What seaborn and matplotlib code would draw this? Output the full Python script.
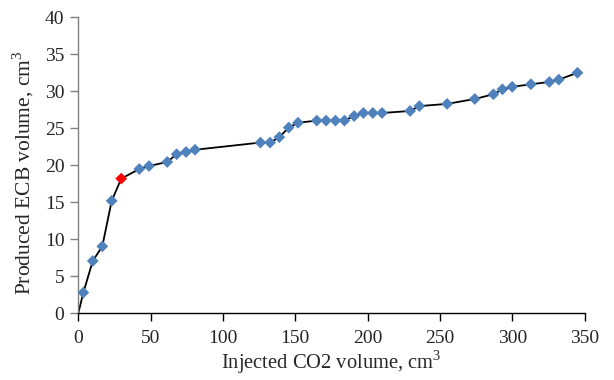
import matplotlib
matplotlib.use("Agg")
import matplotlib.pyplot as plt
import seaborn as sns
import pandas as pd

injected = [0, 3.5, 10.0, 16.6, 23.1, 29.7, 42.2, 48.9, 61.5, 68.0, 74.5, 80.7,
            125.9, 132.6, 139.0, 145.5, 151.9, 164.9, 171.3, 177.8, 184.0, 190.7,
            197.1, 203.6, 210.0, 229.4, 235.8, 255.0, 274.1, 287.0, 293.2, 300.0,
            312.9, 325.7, 332.2, 345.1]
produced = [0, 2.8, 7.07, 9.05, 15.2, 18.2, 19.5, 19.9, 20.45, 21.5, 21.8, 22.1,
            23.07, 23.07, 23.8, 25.1, 25.75, 26.04, 26.04, 26.04, 26.04, 26.66,
            27.07, 27.07, 27.07, 27.34, 28.0, 28.3, 28.96, 29.6, 30.27, 30.6,
            30.95, 31.26, 31.58, 32.5]
highlight_index = 5

df = pd.DataFrame({"x": injected, "y": produced})
markers_df = df.iloc[1:].copy()
markers_df["kind"] = ["red" if i == highlight_index else "blue" for i in markers_df.index]

sns.set_style("white")
plt.rcParams["font.family"] = ["Liberation Serif", "DejaVu Serif"]
plt.rcParams["mathtext.fontset"] = "custom"
plt.rcParams["mathtext.rm"] = "Liberation Serif"

fig = plt.figure(figsize=(6.14, 3.80), dpi=100)
ax = fig.add_axes([0.1275, 0.1755, 0.8245, 0.779])

sns.lineplot(data=df, x="x", y="y", color="black", linewidth=1.3, ax=ax, sort=False)
sns.scatterplot(data=markers_df, x="x", y="y", hue="kind",
                palette={"blue": "#4F81BD", "red": "#FF0000"},
                marker="D", s=36, edgecolor="none", legend=False, ax=ax, zorder=3)

ax.set_xlim(0, 350)
ax.set_ylim(0, 40)
ax.set_xticks(range(0, 351, 50))
ax.set_yticks(range(0, 41, 5))
ax.set_xlabel("Injected CO2 volume, cm$^3$", fontsize=14.8, labelpad=1)
ax.set_ylabel("Produced ECB volume, cm$^3$", fontsize=15.5)
ax.yaxis.set_label_coords(-0.083, 0.476)
ax.tick_params(axis="both", labelsize=14, direction="out", length=6, width=1,
               color="#808080", bottom=True, left=True)
ax.tick_params(axis="x", pad=6, color="black")
ax.tick_params(axis="y", pad=4)
for s in ["top", "right"]:
    ax.spines[s].set_visible(False)
ax.spines["left"].set_color("#808080")
ax.spines["bottom"].set_color("black")
ax.spines["left"].set_linewidth(1)
ax.spines["bottom"].set_linewidth(1)

fig.savefig("out.png", dpi=100)
